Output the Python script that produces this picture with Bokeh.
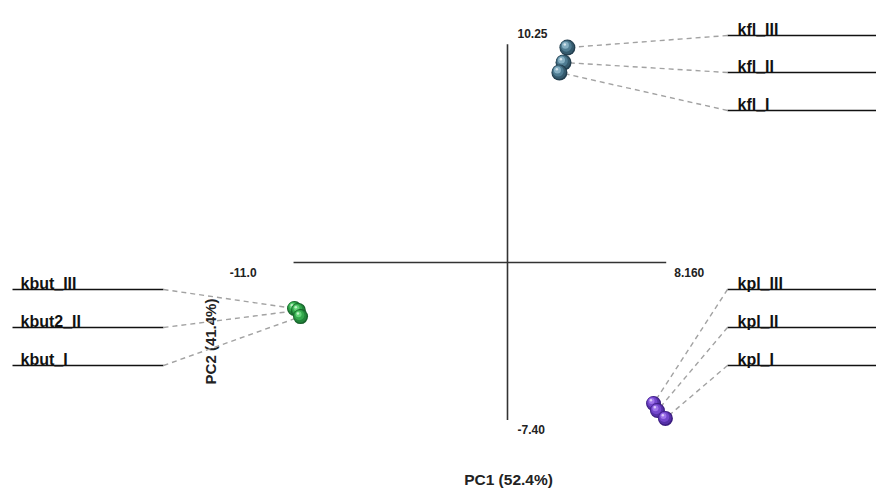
import math
from bokeh.plotting import figure
from bokeh.models import Range1d
from bokeh.embed import file_html
from bokeh.resources import INLINE
from bokeh.core.properties import value

# ---------------- data ----------------
kfl_labels = ["kfl_III", "kfl_II", "kfl_I"]
kfl_pc1 = [3.08, 2.88, 2.67]
kfl_pc2 = [10.09, 9.39, 8.92]

kbut_labels = ["kbut_III", "kbut2_II", "kbut_I"]
kbut_pc1 = [-10.95, -10.75, -10.64]
kbut_pc2 = [-2.16, -2.25, -2.54]

kpl_labels = ["kpl_III", "kpl_II", "kpl_I"]
kpl_pc1 = [7.51, 7.71, 8.12]
kpl_pc2 = [-6.62, -6.95, -7.32]

pc1_limits = [-11.0, 8.160]
pc1_tick_labels = ["-11.0", "8.160"]
pc2_limits = [-7.40, 10.25]
pc2_tick_labels = ["-7.40", "10.25"]

x_title = "PC1 (52.4%)"
y_title = "PC2 (41.4%)"

# ---------------- layout ----------------
W, H = 876, 488
SX, SY = 19.45, 21.3      # px per unit
OX, OY = 507, 262         # origin position in figure px


def dx(X):
    return (X - OX) / SX


def dy(Y):
    return (OY - Y) / SY


FONT = value("Liberation Sans")

p = figure(width=W, height=H, output_backend="svg", toolbar_location=None,
           x_range=Range1d(-OX / SX, (W - OX) / SX),
           y_range=Range1d(-(H - OY) / SY, OY / SY),
           min_border=0)
p.axis.visible = False
p.xgrid.visible = False
p.ygrid.visible = False
p.outline_line_color = None
p.background_fill_color = "white"
p.border_fill_color = "white"

# crosshair axes
p.segment(x0=[pc1_limits[0]], y0=[0], x1=[pc1_limits[1]], y1=[0],
          line_color="#333333", line_width=1.6)
p.segment(x0=[0], y0=[pc2_limits[0]], x1=[0], y1=[pc2_limits[1]],
          line_color="#333333", line_width=1.6)

tick_kw = dict(text_font=FONT, text_font_style="bold", text_font_size="12px",
               text_color="#222222", text_baseline="middle")
p.text(x=[pc1_limits[0]], y=[0], text=[pc1_tick_labels[0]], x_offset=-37, y_offset=10,
       text_align="right", **tick_kw)
p.text(x=[pc1_limits[1]], y=[0], text=[pc1_tick_labels[1]], x_offset=8, y_offset=10,
       text_align="left", **tick_kw)
p.text(x=[0], y=[pc2_limits[1]], text=[pc2_tick_labels[1]], x_offset=10, y_offset=-11,
       text_align="left", **tick_kw)
p.text(x=[0], y=[pc2_limits[0]], text=[pc2_tick_labels[0]], x_offset=10, y_offset=9,
       text_align="left", **tick_kw)

# axis titles
p.text(x=[dx(508)], y=[dy(479)], text=[x_title], text_font=FONT, text_font_style="bold",
       text_font_size="15.5px", text_color="#222222", text_align="center",
       text_baseline="middle")
p.text(x=[dx(210)], y=[dy(341)], text=[y_title], angle=math.pi / 2, text_font=FONT,
       text_font_style="bold", text_font_size="15px", text_color="#222222",
       text_align="center", text_baseline="middle")

# label slots
groups = [
    dict(labels=kfl_labels, pc1=kfl_pc1, pc2=kfl_pc2,
         xs=(727, 880), ys=[35, 72, 110], inner=727, tx=737,
         colors=("#233e4e", "#355a6d", "#4f7c92", "#86afc2", "#d5e6ee"), size=16),
    dict(labels=kbut_labels, pc1=kbut_pc1, pc2=kbut_pc2,
         xs=(12, 163), ys=[289, 327, 365], inner=163, tx=20,
         colors=("#17612a", "#22853a", "#33a84c", "#62d277", "#c2f2c8"), size=15),
    dict(labels=kpl_labels, pc1=kpl_pc1, pc2=kpl_pc2,
         xs=(727, 880), ys=[289, 327, 365], inner=727, tx=737,
         colors=("#3a1c7e", "#5530a8", "#7447cc", "#9e74ea", "#dcc8fa"), size=15),
]

for g in groups:
    lx0, lx1 = g["xs"]
    p.segment(x0=[dx(lx0)] * 3, y0=[dy(y) for y in g["ys"]],
              x1=[dx(lx1)] * 3, y1=[dy(y) for y in g["ys"]],
              line_color="#111111", line_width=1.6)
    p.segment(x0=[dx(g["inner"])] * 3, y0=[dy(y) for y in g["ys"]],
              x1=g["pc1"], y1=g["pc2"],
              line_color="#a2a2a2", line_width=1.4, line_dash="5 4")
    p.text(x=[dx(g["tx"])] * 3, y=[dy(y - 6) for y in g["ys"]], text=g["labels"],
           text_font=FONT, text_font_style="bold", text_font_size="16px",
           text_color="#111111", text_align="left", text_baseline="alphabetic")

# spheres
for g in groups:
    edge, base, mid, light, hl = g["colors"]
    s = g["size"]
    layers = [(s, edge, 0, 0), (s - 2, base, -0.4, -0.4), (s - 5, mid, -1.2, -1.4),
              (s - 9, light, -2.0, -2.4), (2.5, hl, -2.6, -3.2)]
    for x, y in zip(g["pc1"], g["pc2"]):
        for size, col, ox, oy in layers:
            p.scatter(x=[x + ox / SX], y=[y - oy / SY], size=size, fill_color=col,
                      line_color=None, marker="circle")

open("out.html", "w").write(file_html(p, INLINE))
